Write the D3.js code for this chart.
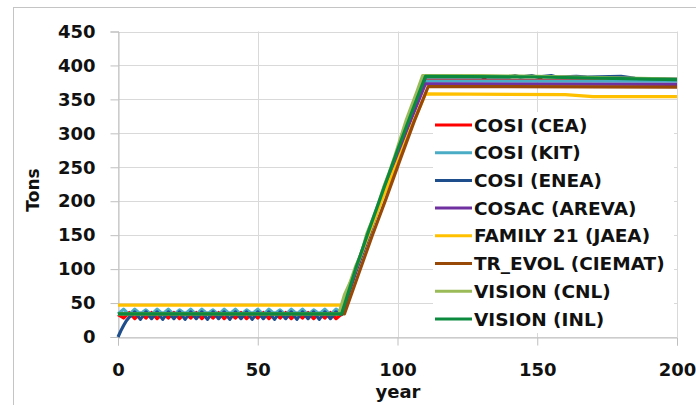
<!DOCTYPE html>
<html>
<head>
<meta charset="utf-8">
<script src="https://cdn.jsdelivr.net/npm/d3@7"></script>
<style>
body { margin: 0; background: #fff; }
svg text { font-family: "DejaVu Sans", Verdana, sans-serif; font-weight: bold; fill: #111; }
</style>
</head>
<body>
<div id="chart"></div>
<script>
// tick labels
var xTicks = [0, 50, 100, 150, 200];
var yTicks = [0, 50, 100, 150, 200, 250, 300, 350, 400, 450];

// series names and colours
var names = ["COSI (CEA)", "COSI (KIT)", "COSI (ENEA)", "COSAC (AREVA)",
  "FAMILY 21 (JAEA)", "TR_EVOL (CIEMAT)", "VISION (CNL)", "VISION (INL)"];
var colors = ["#ff0000", "#4bacc6", "#1f4e8c", "#7030a0",
  "#ffc000", "#984807", "#9bbb59", "#0b8a3e"];

// [year, tons]
var cosiCEA = [[0,33],[2,28],[4,36],[6,27],[8,35],[10,28],[12,36],[14,27],[16,35],[18,28],
  [20,36],[22,27],[24,35],[26,28],[28,36],[30,27],[32,35],[34,28],[36,36],[38,27],
  [40,35],[42,28],[44,36],[46,27],[48,35],[50,28],[52,36],[54,27],[56,35],[58,28],
  [60,36],[62,27],[64,35],[66,28],[68,36],[70,27],[72,35],[74,28],[76,36],[78,27],
  [80,34],[85,100],[90,158],[95,215],[100,270],[105,325],[110,378],[130,378],[131,380],
  [132,378],[150,378],[151,380],[152,378],[200,378]];
var cosiKIT = [[0,34],[2,41],[4,33],[6,41],[8,34],[10,40],[12,33],[14,41],[16,34],[18,41],
  [20,33],[22,40],[24,34],[26,41],[28,33],[30,41],[32,34],[34,40],[36,33],[38,41],
  [40,34],[42,41],[44,33],[46,40],[48,34],[50,41],[52,33],[54,41],[56,34],[58,40],
  [60,33],[62,41],[64,34],[66,41],[68,33],[70,40],[72,34],[74,41],[76,33],[78,41],
  [80,35],[85,98],[90,156],[95,214],[100,270],[105,326],[110,377],[200,377]];
var cosiENEA = [[0,0],[1,9],[2,17],[3,24],[4,29],[5,32],[6,37],[8,26],[10,37],[12,27],
  [14,37],[16,26],[18,37],[20,27],[22,37],[24,26],[26,37],[28,27],[30,37],[32,26],
  [34,37],[36,27],[38,37],[40,26],[42,37],[44,27],[46,37],[48,26],[50,37],[52,27],
  [54,37],[56,26],[58,37],[60,27],[62,37],[64,26],[66,37],[68,27],[70,37],[72,26],
  [74,37],[76,27],[78,37],[80,33],[85,95],[90,152],[95,212],[100,270],[105,328],
  [110,383],[140,383],[142,385],[144,383],[148,385],[150,383],[155,385],[157,383],
  [164,384],[168,383],[180,384],[185,381],[200,380]];
var cosacAREVA = [[0,34],[80,34],[85,97],[90,155],[95,212],[100,268],[105,322],[110,373],[200,372]];
var family21 = [[0,47],[80,47],[85,100],[90,155],[95,208],[100,258],[105,310],[110,358],
  [160,357],[170,354],[200,354]];
var trEvol = [[0,34],[81,34],[86,92],[91,150],[96,205],[101,262],[106,318],[111,369],[200,368]];
var visionCNL = [[0,34],[79,34],[81,62],[83,80],[85,104],[87,122],[89,152],[91,172],[93,194],
  [95,220],[97,242],[99,266],[101,292],[103,318],[105,340],[107,362],[109,385],[130,385],
  [150,384],[200,380]];
var visionINL = [[0,34],[80,34],[85,100],[90,160],[95,218],[100,275],[105,330],[110,384],
  [150,383],[200,379]];

var series = [cosiCEA, cosiKIT, cosiENEA, cosacAREVA, family21, trEvol, visionCNL, visionINL];

var w = 696, h = 405;

var svg = d3.select("#chart").append("svg")
  .attr("width", w)
  .attr("height", h);

// outer chart frame
svg.append("rect")
  .attr("x", 13.5).attr("y", 7.5)
  .attr("width", 720).attr("height", 430)
  .attr("fill", "none")
  .attr("stroke", "#c4c4c4");

var x = d3.scaleLinear().domain([0, 200]).range([118, 677]);
var y = d3.scaleLinear().domain([0, 450]).range([337, 31.5]);

// gridlines
svg.append("g")
  .selectAll("line.h")
  .data(yTicks)
  .join("line")
  .attr("x1", x(0)).attr("x2", x(200))
  .attr("y1", d => Math.round(y(d)) + 0.5).attr("y2", d => Math.round(y(d)) + 0.5)
  .attr("stroke", "#d9d9d9").attr("stroke-width", 1);

svg.append("g")
  .selectAll("line.v")
  .data(xTicks)
  .join("line")
  .attr("x1", d => Math.round(x(d)) + 0.5).attr("x2", d => Math.round(x(d)) + 0.5)
  .attr("y1", y(450)).attr("y2", y(0))
  .attr("stroke", "#d9d9d9").attr("stroke-width", 1);

// axes
var yAxis = svg.append("g")
  .attr("transform", "translate(118.5,0)")
  .call(d3.axisLeft(y).tickValues(yTicks).tickSize(8).tickPadding(15));
var xAxis = svg.append("g")
  .attr("transform", "translate(0,337.5)")
  .call(d3.axisBottom(x).tickValues(xTicks).tickSize(8).tickPadding(18));

[yAxis, xAxis].forEach(function(a) {
  a.select(".domain").attr("stroke", "#bfbfbf");
  a.selectAll(".tick line").attr("stroke", "#bfbfbf");
  a.selectAll(".tick text")
    .style("font-size", "18px")
    .attr("fill", "#111");
});

// lines
var line = d3.line()
  .x(d => x(d[0]))
  .y(d => y(d[1]));

svg.append("g")
  .selectAll("path")
  .data(series)
  .join("path")
  .attr("d", line)
  .attr("fill", "none")
  .attr("stroke", (d, i) => colors[i])
  .attr("stroke-width", 3.2)
  .attr("stroke-linejoin", "round");

// legend
var legend = svg.append("g");
legend.append("rect")
  .attr("x", 433).attr("y", 112)
  .attr("width", 241).attr("height", 221)
  .attr("fill", "#fff");

var item = legend.selectAll("g")
  .data(names)
  .join("g")
  .attr("transform", (d, i) => "translate(0," + (125 + i * 27.7) + ")");
item.append("line")
  .attr("x1", 435).attr("x2", 472)
  .attr("stroke", (d, i) => colors[i])
  .attr("stroke-width", 3);
item.append("text")
  .attr("x", 474)
  .attr("dy", "0.36em")
  .style("font-size", "18.5px")
  .text(d => d);

// axis titles
svg.append("text")
  .attr("x", 398).attr("y", 398)
  .attr("text-anchor", "middle")
  .style("font-size", "18px")
  .text("year");

svg.append("text")
  .attr("transform", "translate(39,190) rotate(-90)")
  .attr("text-anchor", "middle")
  .style("font-size", "17px")
  .text("Tons");
</script>
</body>
</html>
